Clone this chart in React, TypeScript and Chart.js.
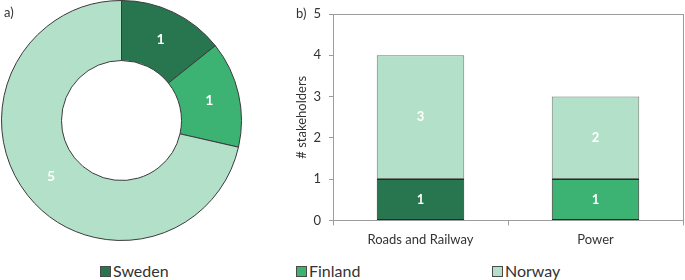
import React, { useEffect, useRef } from "react";
import { Chart, registerables } from "chart.js";

Chart.register(...registerables);

// ---- data ----
const countries = ["Sweden", "Finland", "Norway"];
const countryColors = ["#28764f", "#3cb273", "#b3e0c9"];
const stakeholdersByCountry = [1, 1, 5];
const sectors = ["Roads and Railway", "Power"];
const swedenBySector = [1, null];
const finlandBySector = [null, 1];
const norwayBySector = [3, 2];
const yMax = 5;
const yTitle = "# stakeholders";

const FONT = "Lato, 'Open Sans', sans-serif";
const TEXT = "#333333";
const AXIS = "#9c9c9c";

const valueLabels = {
  id: "valueLabels",
  afterDatasetsDraw(chart: any, _args: any, opts: any) {
    const ctx = chart.ctx;
    ctx.save();
    ctx.fillStyle = "#ffffff";
    ctx.font = `bold ${opts.size || 13}px ${FONT}`;
    ctx.textAlign = "center";
    ctx.textBaseline = "middle";
    chart.data.datasets.forEach((ds: any, i: number) => {
      const meta = chart.getDatasetMeta(i);
      meta.data.forEach((el: any, j: number) => {
        const v = ds.data[j];
        if (v == null) return;
        const p = el.getCenterPoint(true);
        ctx.fillText(String(v), p.x, p.y);
      });
    });
    ctx.restore();
  },
};

export default function App() {
  const pieRef = useRef<HTMLCanvasElement>(null);
  const barRef = useRef<HTMLCanvasElement>(null);

  useEffect(() => {
    const pie = new Chart(pieRef.current!, {
      type: "doughnut",
      data: {
        labels: countries,
        datasets: [
          {
            data: stakeholdersByCountry,
            backgroundColor: countryColors,
            borderColor: "#3a3a3a",
            borderWidth: 1,
          },
        ],
      },
      options: {
        animation: false,
        responsive: false,
        cutout: "50%",
        layout: { padding: 0 },
        plugins: {
          legend: { display: false },
          tooltip: { enabled: false },
          valueLabels: { size: 14 },
        } as any,
      },
      plugins: [valueLabels],
    });

    const tickFont = { family: FONT, size: 13 };
    const bar = new Chart(barRef.current!, {
      type: "bar",
      data: {
        labels: sectors,
        datasets: [
          {
            label: countries[0],
            data: swedenBySector,
            backgroundColor: countryColors[0],
            borderColor: "#2a2a2a",
            borderWidth: 1,
            borderSkipped: false,
          },
          {
            label: countries[1],
            data: finlandBySector,
            backgroundColor: countryColors[1],
            borderColor: "#2a2a2a",
            borderWidth: 1,
            borderSkipped: false,
          },
          {
            label: countries[2],
            data: norwayBySector,
            backgroundColor: countryColors[2],
            borderColor: "#6f7a73",
            borderWidth: 1,
            borderSkipped: false,
          },
        ] as any,
      },
      options: {
        animation: false,
        responsive: false,
        layout: { padding: { top: 0, right: 2, bottom: 3, left: 0 } },
        datasets: { bar: { categoryPercentage: 1, barPercentage: 0.5 } },
        plugins: {
          legend: { display: false },
          tooltip: { enabled: false },
          valueLabels: { size: 13 },
        } as any,
        scales: {
          x: {
            stacked: true,
            grid: { drawOnChartArea: false, tickLength: 5, color: AXIS, offset: true },
            border: { color: AXIS },
            ticks: { color: TEXT, font: tickFont, padding: 7 },
          },
          y: {
            stacked: true,
            min: 0,
            max: yMax,
            ticks: { stepSize: 1, color: TEXT, font: tickFont, padding: 8 },
            grid: { drawOnChartArea: false, tickLength: 4, color: AXIS },
            border: { color: AXIS },
            title: {
              display: true,
              text: yTitle,
              color: TEXT,
              font: tickFont,
              padding: { top: 9, bottom: 0 },
            },
            afterFit: (s: any) => {
              s.width = 48;
              s.paddingTop = 14;
              s.paddingBottom = 0;
            },
          },
          x2: {
            type: "category",
            position: "top",
            grid: { drawOnChartArea: false, drawTicks: false },
            ticks: { display: false },
            border: { color: AXIS },
            afterFit: (s: any) => {
              s.height = 0;
            },
          },
          y2: {
            type: "linear",
            position: "right",
            grid: { drawOnChartArea: false, drawTicks: false },
            ticks: { display: false },
            border: { color: AXIS },
            afterFit: (s: any) => {
              s.width = 0;
            },
          },
        } as any,
      },
      plugins: [valueLabels],
    });

    return () => {
      pie.destroy();
      bar.destroy();
    };
  }, []);

  return (
    <div
      style={{
        position: "fixed",
        left: 0,
        top: 0,
        width: 685,
        height: 280,
        background: "#fff",
        fontFamily: FONT,
        color: TEXT,
        overflow: "hidden",
      }}
    >
      <canvas
        ref={pieRef}
        width={243}
        height={241}
        style={{ position: "absolute", left: 0, top: 0, width: 243, height: 241 }}
      />
      <canvas
        ref={barRef}
        width={400}
        height={258}
        style={{ position: "absolute", left: 285, top: 0, width: 400, height: 258 }}
      />
      <div style={{ position: "absolute", left: 4, top: 4, fontSize: 13, lineHeight: "16px" }}>a)</div>
      <div style={{ position: "absolute", left: 296, top: 5, fontSize: 13, lineHeight: "16px" }}>b)</div>
      <div
        style={{
          position: "absolute",
          left: 100,
          top: 262,
          display: "flex",
          fontSize: 16,
          lineHeight: "18px",
        }}
      >
        {countries.map((c, i) => (
          <div key={c} style={{ width: 196, display: "flex", alignItems: "center" }}>
            <span
              style={{
                display: "inline-block",
                width: 11,
                height: 11,
                boxSizing: "border-box",
                background: countryColors[i],
                border: "1px solid #4a4a4a",
                marginRight: 2,
              }}
            />
            <span>{c}</span>
          </div>
        ))}
      </div>
    </div>
  );
}
